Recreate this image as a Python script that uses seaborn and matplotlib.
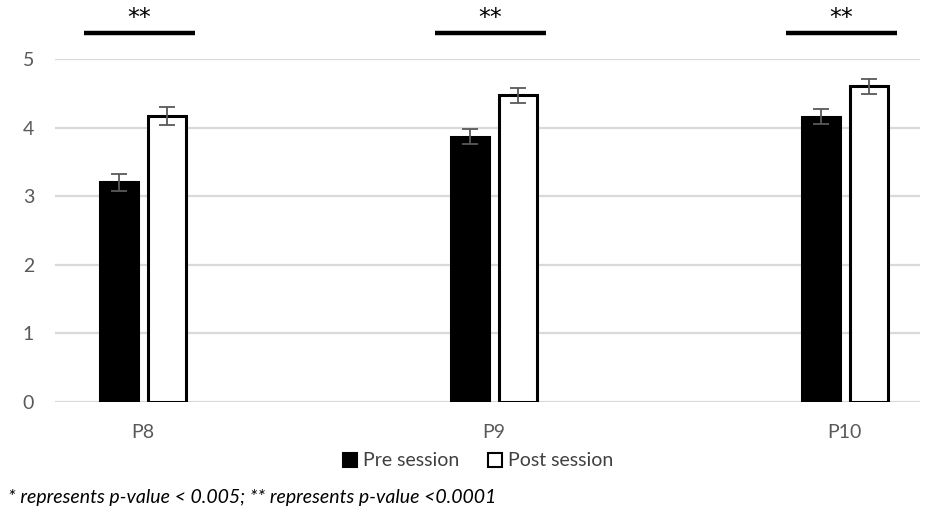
import pandas as pd
import matplotlib
matplotlib.use("Agg")
import matplotlib.pyplot as plt
import seaborn as sns

# values
participants = ["P8", "P9", "P10"]
sessions = ["Pre session", "Post session"]
pre_mean = [3.20, 3.87, 4.16]
post_mean = [4.17, 4.47, 4.60]
pre_err = [0.12, 0.11, 0.11]
post_err = [0.13, 0.105, 0.107]
significance = ["**", "**", "**"]
footnote = "* represents p-value < 0.005; ** represents p-value <0.0001"

sns.set_style("white")
plt.rcParams["font.family"] = ["Lato", "DejaVu Sans"]

df = pd.DataFrame({
    "participant": participants * 2,
    "session": [sessions[0]] * 3 + [sessions[1]] * 3,
    "score": pre_mean + post_mean,
})

fig = plt.figure(figsize=(9.35, 5.22), dpi=100)
ax = fig.add_axes([55 / 935, 1 - 402 / 522, 865 / 935, 343 / 522])

sns.barplot(data=df, x="participant", y="score", hue="session", order=participants,
            hue_order=sessions, palette={"Pre session": "black", "Post session": "white"},
            edgecolor="black", linewidth=2.2, width=0.275, gap=0.22, errorbar=None,
            legend=False, ax=ax)

for container, errs in zip(ax.containers, [pre_err, post_err]):
    for bar, e in zip(container, errs):
        ax.errorbar(bar.get_x() + bar.get_width() / 2, bar.get_height(), yerr=e,
                    fmt="none", ecolor="#595959", elinewidth=1.3, capsize=5.5,
                    capthick=1.3, zorder=5)

ax.set_xlim(-0.251, 2.214)
ax.set_ylim(0, 5)
ax.set_yticks(range(6))
ax.yaxis.grid(True, color="#d9d9d9", linewidth=1.6)
ax.set_axisbelow(True)
for s in ax.spines.values():
    s.set_visible(False)
ax.tick_params(axis="both", length=0, labelsize=14, labelcolor="#595959")
ax.tick_params(axis="y", pad=15)
ax.tick_params(axis="x", pad=16)
ax.set_xlabel("")
ax.set_ylabel("")

# significance bars above each pair
for i, mark in enumerate(significance):
    ax.plot([i - 0.168, i + 0.148], [5.38, 5.38], color="black", linewidth=3.2,
            clip_on=False, solid_capstyle="butt")
    ax.text(i - 0.012, 5.60, mark, ha="center", va="center", fontsize=17,
            family="DejaVu Sans", color="black", clip_on=False)

handles = [plt.Rectangle((0, 0), 1, 1, facecolor="black", edgecolor="black", linewidth=1.5),
           plt.Rectangle((0, 0), 1, 1, facecolor="white", edgecolor="black", linewidth=1.5)]
fig.legend(handles, sessions, loc="center", bbox_to_anchor=(478 / 935, 1 - 461 / 522),
           ncol=2, frameon=False, fontsize=14, labelcolor="#404040",
           handlelength=0.7, handleheight=0.7, handletextpad=0.3, columnspacing=1.5)

fig.text(8 / 935, 1 - 497 / 522, footnote, ha="left", va="center", fontsize=14,
         style="italic", color="black")

plt.savefig("out.png", dpi=100)
plt.close()
